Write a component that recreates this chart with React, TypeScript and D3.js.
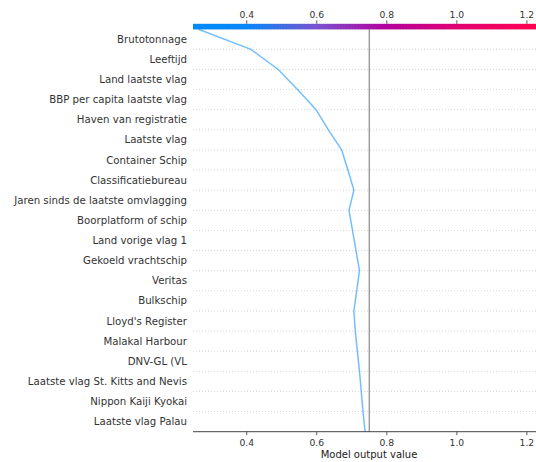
import React from "react";
import * as d3 from "d3";

// feature rows, top to bottom
const features = [
  "Brutotonnage",
  "Leeftijd",
  "Land laatste vlag",
  "BBP per capita laatste vlag",
  "Haven van registratie",
  "Laatste vlag",
  "Container Schip",
  "Classificatiebureau",
  "Jaren sinds de laatste omvlagging",
  "Boorplatform of schip",
  "Land vorige vlag 1",
  "Gekoeld vrachtschip",
  "Veritas",
  "Bulkschip",
  "Lloyd's Register",
  "Malakal Harbour",
  "DNV-GL (VL",
  "Laatste vlag St. Kitts and Nevis",
  "Nippon Kaiji Kyokai",
  "Laatste vlag Palau",
];

// cumulative model output at each row boundary, top (final output) to bottom
const cumulative = [
  0.262, 0.412, 0.49, 0.545, 0.598, 0.633, 0.671, 0.689, 0.706, 0.692, 0.702,
  0.712, 0.722, 0.714, 0.706, 0.71, 0.716, 0.722, 0.727, 0.732, 0.738,
];

const baseValue = 0.75;
const xTicks = [0.4, 0.6, 0.8, 1.0, 1.2];
const xDomain = [0.2466, 1.226];

// colour bar stops (in output value)
const cbarValues = [0.2466, 0.41, 0.6, 0.8, 1.0, 1.226];
const cbarColors = ["#008bfb", "#0a86f7", "#7a52cf", "#b3009b", "#e00073", "#ff0051"];

const W = 536;
const H = 462;
const left = 193;
const right = 536;
const top = 29.2;
const bottom = 431.7;

export default function App() {
  const n = features.length;
  const x = d3.scaleLinear().domain(xDomain).range([left, right]);
  const y = d3.scaleLinear().domain([0, n]).range([bottom, top]);

  const frac = d3.scaleLinear().domain(xDomain).range([0, 1]);

  const pts: [number, number][] = cumulative.map((v, i) => [x(v), y(n - i)]);
  const line = d3.line();

  const font = "DejaVu Sans, sans-serif";

  return (
    <svg
      width={W}
      height={H}
      style={{ position: "absolute", left: 0, top: 0, background: "#fff" }}
      fontFamily={font}
    >
      <defs>
        <linearGradient id="cbar" x1="0" x2="1" y1="0" y2="0">
          {cbarValues.map((v, i) => (
            <stop key={v} offset={frac(v)} stopColor={cbarColors[i]} />
          ))}
        </linearGradient>
      </defs>

      {/* grid lines */}
      {d3.range(0, n + 1).map((k) => (
        <line
          key={k}
          x1={left}
          x2={right}
          y1={y(k)}
          y2={y(k)}
          stroke="#cccccc"
          strokeWidth={0.8}
          strokeDasharray="1,2"
        />
      ))}

      {/* base value */}
      <line
        x1={x(baseValue)}
        x2={x(baseValue)}
        y1={top}
        y2={bottom}
        stroke="#999999"
        strokeWidth={1.4}
      />

      {/* decision line */}
      <path
        d={line(pts) || ""}
        fill="none"
        stroke="#008bfb"
        strokeOpacity={0.55}
        strokeWidth={1.5}
      />

      {/* colorbar */}
      <rect x={left} y={23.8} width={right - left} height={5.6} fill="url(#cbar)" />
      {xTicks.map((t) => (
        <g key={"top" + t}>
          <line x1={x(t)} x2={x(t)} y1={23.8} y2={20.3} stroke="#333" strokeWidth={0.8} />
          <text
            x={x(t)}
            y={17.5}
            textAnchor="middle"
            fontSize={9.2}
            fill="#333"
          >
            {t.toFixed(1)}
          </text>
        </g>
      ))}

      {/* feature labels */}
      {features.map((f, i) => (
        <text
          key={f}
          x={187}
          y={y(n - i - 0.5)}
          dy="0.35em"
          textAnchor="end"
          fontSize={10.2}
          fill="#333"
        >
          {f}
        </text>
      ))}

      {/* bottom axis */}
      <line x1={left} x2={right} y1={bottom} y2={bottom} stroke="#333" strokeWidth={0.9} />
      {xTicks.map((t) => (
        <g key={"bot" + t}>
          <line x1={x(t)} x2={x(t)} y1={bottom} y2={bottom + 3.5} stroke="#333" strokeWidth={0.8} />
          <text
            x={x(t)}
            y={bottom + 14}
            textAnchor="middle"
            fontSize={9.2}
            fill="#333"
          >
            {t.toFixed(1)}
          </text>
        </g>
      ))}
      <text
        x={369}
        y={458}
        textAnchor="middle"
        fontSize={10}
        fill="#222"
      >
        Model output value
      </text>
    </svg>
  );
}
